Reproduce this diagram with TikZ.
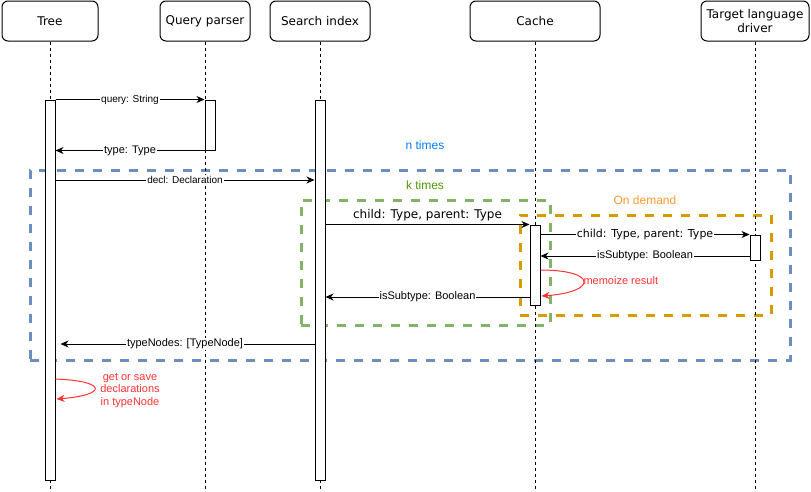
\documentclass[tikz,border=0pt]{standalone}
\usepackage{fontspec}
\setmainfont{Liberation Sans}
\newfontfamily\dejavu{DejaVu Sans}
\usetikzlibrary{arrows.meta,calc}
\definecolor{grpblue}{HTML}{6C8EBF}
\definecolor{grpgreen}{HTML}{82B366}
\definecolor{grporange}{HTML}{D79B00}
\definecolor{txtblue}{HTML}{007FFF}
\definecolor{txtgreen}{HTML}{4D9900}
\definecolor{txtorange}{HTML}{FF9933}
\definecolor{loopred}{HTML}{FF3333}
\begin{document}
\begin{tikzpicture}[x=1pt,y=-1pt,line width=1pt,
  hdr/.style={draw, rounded corners=6pt, minimum width=#1, minimum height=40pt, inner sep=0pt,
    font=\dejavu\fontsize{12}{14}\selectfont, align=center},
  act/.style={draw, fill=white, minimum width=10pt, minimum height=#1, inner sep=0pt},
  life/.style={dash pattern=on 3pt off 3pt, line width=0.8pt},
  grp/.style={draw=#1, line width=3pt, dash pattern=on 9pt off 9pt, inner sep=0pt, fill=none},
  msg/.style={-{Stealth[length=8pt,width=7pt,inset=2.5pt]}},
  lbl/.style={fill=white, inner sep=1pt, font=\fontsize{11}{13}\selectfont},
  lblsm/.style={fill=white, inner sep=1pt, font=\fontsize{10}{12}\selectfont},
  lbldv/.style={fill=white, inner sep=1pt, font=\dejavu\fontsize{11}{13}\selectfont},
  selfloop/.style={draw=loopred, -{Stealth[length=8pt,width=7pt,inset=2.5pt]}, fill=none},
  note/.style={text=loopred, font=\fontsize{11}{12.5}\selectfont, align=center, inner sep=0pt},
  grptxt/.style={font=\fontsize{12}{14}\selectfont, inner sep=0pt}
]
\useasboundingbox (0,0) rectangle (811,491);
\fill[white] (0,0) rectangle (811,491);

% group frames
\node[grp=grpblue, minimum width=760pt, minimum height=190pt] (ngrp) at (410,265) {};
\node[grp=grpgreen, minimum width=249pt, minimum height=125pt] (kgrp) at (425.5,262.5) {};
\node[grp=grporange, minimum width=251pt, minimum height=100pt] (dgrp) at (645.5,265) {};
\node[grptxt, text=txtblue] (ntxt) at (425,145) {n times};
\node[grptxt, text=txtgreen] (ktxt) at (425,185) {k times};
\node[grptxt, text=txtorange] (dtxt) at (645,200) {On demand};

% headers
\node[hdr=96pt] (tree) at (50,21) {Tree};
\node[hdr=90pt] (qp) at (205,21) {Query parser};
\node[hdr=100pt] (si) at (320,21) {Search index};
\node[hdr=130pt] (cache) at (535,21) {Cache};
\node[hdr=108pt] (tld) at (755,21) {Target language\\driver};

% lifelines
\coordinate (bot) at (0,490);
\foreach \h in {tree,qp,si,cache,tld}
  \draw[life] (\h.south) -- (\h.south |- bot);

% activations
\node[act=380pt] (treeA) at (50,290) {};
\node[act=50pt] (qpA) at (210,125) {};
\node[act=380pt] (siA) at (320,290) {};
\node[act=80pt] (cacheA) at (535,265) {};
\node[act=25pt] (tldA) at (755,247.5) {};

% message rows
\coordinate (r3) at (0,180);
\coordinate (r6) at (0,256);
\coordinate (r7) at (0,297);
\coordinate (r8) at (0,344);
\coordinate (m1) at (0,270);
\coordinate (m2) at (0,296);
\coordinate (t1) at (0,379);
\coordinate (t2) at (0,399);

\draw[msg] (treeA.north east) -- node[lblsm]{query: String} (qpA.north west);
\draw[msg] (qpA.south west) -- node[lbl]{type: Type} (qpA.south west -| treeA.east);
\draw[msg] (treeA.east |- r3) -- node[lblsm]{decl: Declaration} (siA.west |- r3);
\draw[msg] (siA.east |- cacheA.north) -- node[midway, anchor=south, yshift=2pt, inner sep=1pt,
   font=\dejavu\fontsize{12}{14}\selectfont]{child: Type, parent: Type} (cacheA.north west);
\draw[msg] (cacheA.east |- tldA.north) -- node[lbldv]{child: Type, parent: Type} (tldA.north west);
\draw[msg] (tldA.west |- r6) -- node[lbl]{isSubtype: Boolean} (cacheA.east |- r6);
\draw[selfloop] (cacheA.east |- m1) .. controls ($(cacheA.east |- m1)+(57,0)$) and ($(cacheA.east |- m2)+(57,-4)$) .. ($(cacheA.east |- m2)+(1,0)$);
\node[note, anchor=west] (memo) at (583,281) {memoize result};
\draw[msg] (cacheA.west |- r7) -- node[lbl]{isSubtype: Boolean} (siA.east |- r7);
\draw[msg, shorten >=5pt] (siA.west |- r8) -- node[lbl]{typeNodes: [TypeNode]} (treeA.east |- r8);
\draw[selfloop] (treeA.east |- t1) .. controls ($(treeA.east |- t1)+(52,2)$) and ($(treeA.east |- t2)+(52,-4)$) .. ($(treeA.east |- t2)+(1,0)$);
\node[note] (gs) at (130,390.5) {get or save\\declarations\\in typeNode};
\end{tikzpicture}
\end{document}
